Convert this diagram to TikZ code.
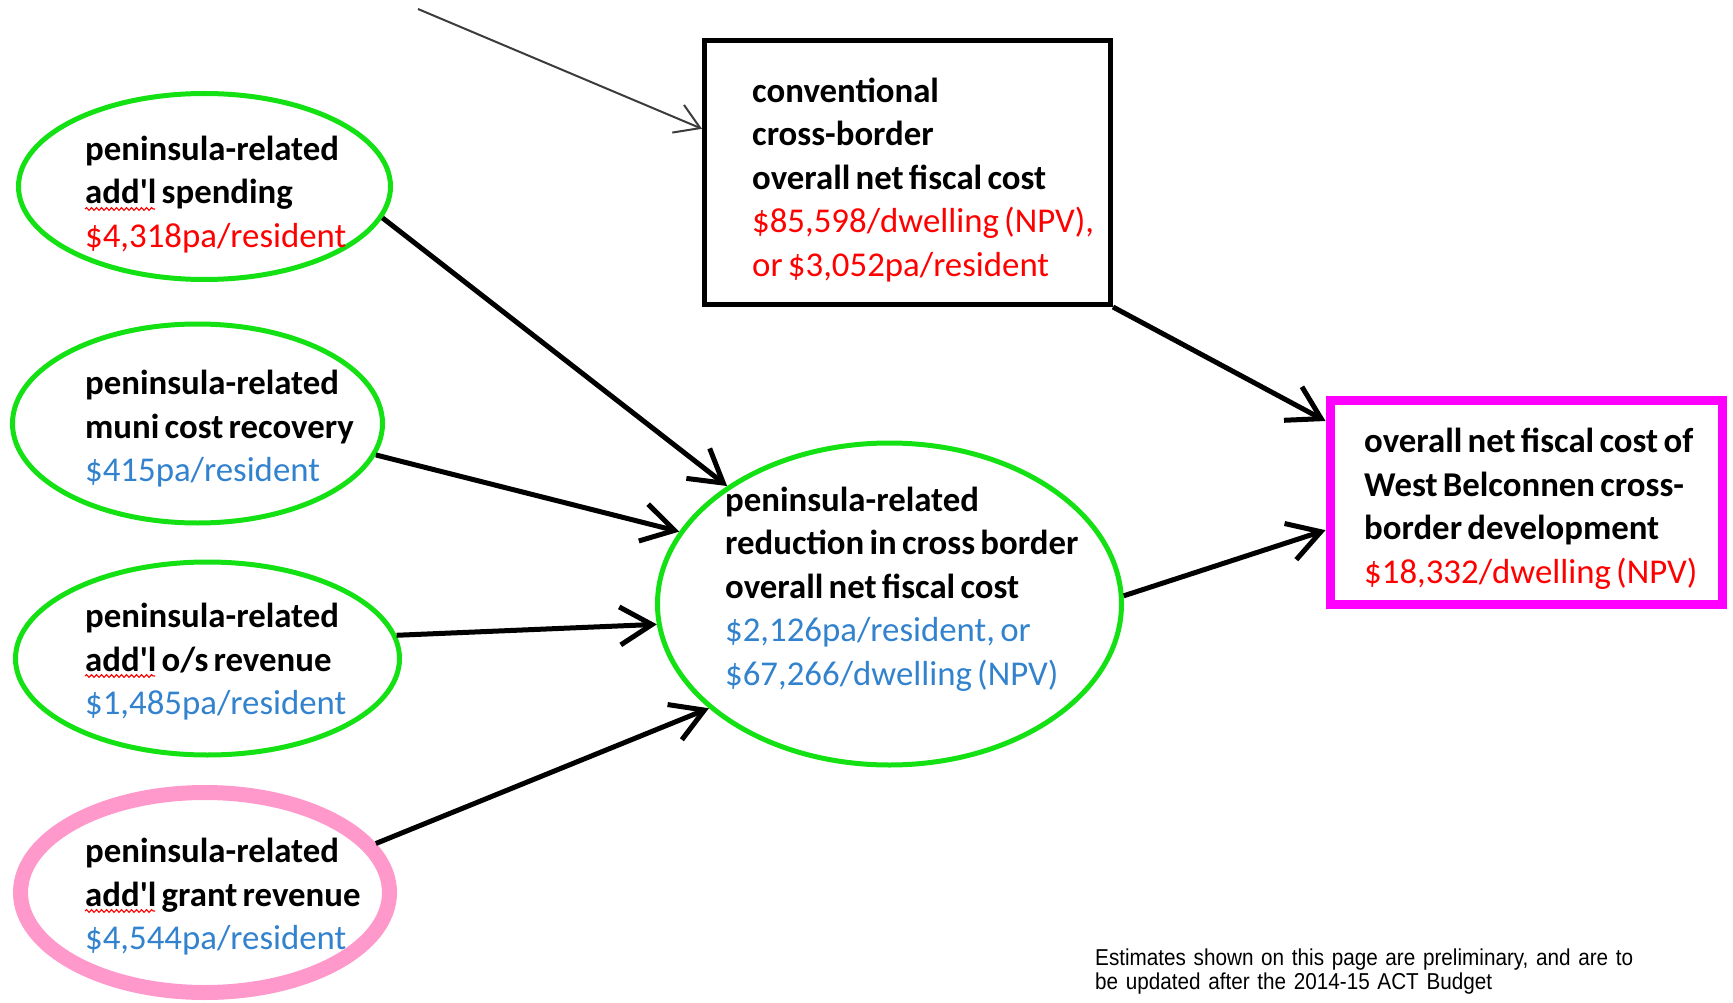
\documentclass[tikz,border=0pt]{standalone}
\usepackage{fontspec}
\setmainfont{Carlito}
\newfontfamily\notefont[FakeStretch=0.9]{Liberation Sans}
\usetikzlibrary{arrows.meta,shapes.geometric,decorations.pathmorphing}
\definecolor{ovgreen}{RGB}{20,225,20}
\definecolor{ovpink}{RGB}{255,153,204}
\definecolor{ovmag}{RGB}{255,0,255}
\definecolor{ovred}{RGB}{255,0,0}
\definecolor{ovblue}{RGB}{50,130,205}
\definecolor{ovgray}{RGB}{60,60,60}
\begin{document}
\begin{tikzpicture}[x=1pt,y=-1pt,
  oval/.style={draw=ovgreen,line width=5pt,ellipse,inner sep=0pt},
  pinkoval/.style={draw=ovpink,line width=15pt,ellipse,inner sep=0pt},
  blackbox/.style={draw=black,line width=5pt,rectangle,inner sep=0pt},
  magbox/.style={draw=ovmag,line width=9pt,rectangle,inner sep=0pt},
  txt/.style={anchor=base west,inner sep=0pt,text width=640pt,align=left,font=\fontsize{34.8}{43.5}\selectfont,
    execute at begin node={\spaceskip=5.3pt plus 1pt minus 1pt\relax}},
  note/.style={anchor=base west,inner sep=0pt,text width=620pt,align=left,font=\notefont\fontsize{23}{24}\selectfont},
  flow/.style={line width=5pt,-{Straight Barb[length=32pt,width=38pt]}},
  thinflow/.style={draw=ovgray,line width=2pt,-{Straight Barb[length=24pt,width=30pt]}},
  squiggle/.style={draw=ovred,line width=1.1pt,decorate,decoration={snake,amplitude=1.4pt,segment length=5pt}}
]
\useasboundingbox (0,0) rectangle (1733,1003);

% shapes
\node[oval,minimum width=372pt,minimum height=186pt] (A) at (204.5,186.5) {};
\node[oval,minimum width=370pt,minimum height=199pt] (B) at (197.5,423.5) {};
\node[oval,minimum width=384pt,minimum height=193pt] (C) at (207.5,658.5) {};
\node[pinkoval,minimum width=369pt,minimum height=200pt] (D) at (205,892.5) {};
\node[oval,minimum width=464pt,minimum height=322pt] (M) at (889.5,604) {};
\node[blackbox,minimum width=406pt,minimum height=264pt] (R) at (907.5,172.5) {};
\node[magbox,minimum width=392pt,minimum height=204pt] (MB) at (1526,502) {};

% texts
\node[txt] (tA) at (85,160.5) {\textbf{peninsula-related}\\\textbf{add\textquotesingle l spending}\\\textcolor{ovred}{\$4,318pa/resident}};
\node[txt] (tB) at (85,394.5) {\textbf{peninsula-related}\\\textbf{muni cost recovery}\\\textcolor{ovblue}{\$415pa/resident}};
\node[txt] (tC) at (85,627.5) {\textbf{peninsula-related}\\\textbf{add\textquotesingle l o/s revenue}\\\textcolor{ovblue}{\$1,485pa/resident}};
\node[txt] (tD) at (85,862.5) {\textbf{peninsula-related}\\\textbf{add\textquotesingle l grant revenue}\\\textcolor{ovblue}{\$4,544pa/resident}};
\node[txt] (tR) at (752,102.5) {\textbf{conventional}\\\textbf{cross-border}\\\textbf{overall net fiscal cost}\\\textcolor{ovred}{\$85,598/dwelling (NPV),}\\\textcolor{ovred}{or \$3,052pa/resident}};
\node[txt] (tM) at (725,511) {\textbf{peninsula-related}\\\textbf{reduction in cross border}\\\textbf{overall net fiscal cost}\\\textcolor{ovblue}{\$2,126pa/resident, or}\\\textcolor{ovblue}{\$67,266/dwelling (NPV)}};
\node[txt] (tMB) at (1364,452.5) {\textbf{overall net fiscal cost of}\\\textbf{West Belconnen cross-}\\\textbf{border development}\\\textcolor{ovred}{\$18,332/dwelling (NPV)}};
\node[note] (tN) at (1095,965) {Estimates shown on this page are preliminary, and are to\\be updated after the 2014-15 ACT Budget};

% spell-check squiggles
\draw[squiggle] ([shift={(0,48.5)}]tA.base west) -- ++(70,0);
\draw[squiggle] ([shift={(0,48.5)}]tC.base west) -- ++(70,0);
\draw[squiggle] ([shift={(0,48.5)}]tD.base west) -- ++(70,0);

% connectors
\draw[flow] (A.-10) -- (M.144);
\draw[flow] (B.-10.5) -- (M.161);
\draw[flow] (C.7.5) -- (M.185);
\draw[flow] (D.16) -- (M.210);
\draw[flow] (R.south east) -- (MB.158.6);
\draw[flow] (M.2.3) -- (MB.188.9);
\coordinate (src) at (418,9);
\draw[thinflow] (src) -- (R.168);
\end{tikzpicture}
\end{document}
